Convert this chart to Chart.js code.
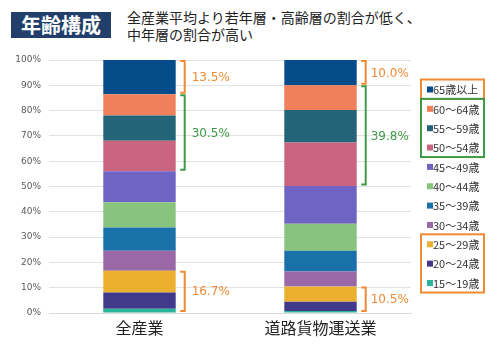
<!DOCTYPE html>
<html lang="ja">
  <head>
    <meta charset="UTF-8" />
    <title>年齢構成</title>
    <style>
      body { margin: 0; background: #fff; font-family: "Noto Sans CJK JP", sans-serif; }
      .wrap { position: relative; width: 500px; height: 351px; }
      .badge {
        position: absolute; left: 11px; top: 12px; width: 100px; height: 26px;
        background: #213f6a; color: #fff; font-weight: bold; font-size: 20px;
        line-height: 26px; text-align: center; letter-spacing: 0px;
      }
      .lead {
        position: absolute; left: 127px; top: 9px; font-size: 14px;
        line-height: 16.5px; color: #222; white-space: nowrap;
      }
      canvas { position: absolute; left: 0; top: 0; }
    </style>
  </head>
  <body>
    <div class="wrap">
      <div class="badge">年齢構成</div>
      <div class="lead">全産業平均より若年層・高齢層の割合が低く、<br />中年層の割合が高い</div>
      <canvas id="ageChart" width="500" height="351"></canvas>
    </div>
    <script src="https://cdn.jsdelivr.net/npm/chart.js@4"></script>
    <script>
      // データ（下から上の順）
      var categories = ["全産業", "道路貨物運送業"];
      var ageGroups = ["15～19歳", "20～24歳", "25～29歳", "30～34歳", "35～39歳",
        "40～44歳", "45～49歳", "50～54歳", "55～59歳", "60～64歳", "65歳以上"];
      var allIndustries = [1.7, 6.4, 8.6, 7.9, 9.2, 10.0, 12.2, 12.1, 10.0, 8.4, 13.5];
      var roadFreight = [0.8, 3.6, 6.1, 5.9, 8.2, 10.7, 14.9, 17.2, 12.8, 9.8, 10.0];
      var yTicks = [0, 10, 20, 30, 40, 50, 60, 70, 80, 90, 100];

      var colors = ["#2ab49c", "#41398a", "#ebb02f", "#9a67a7", "#1a70a8",
        "#88c47e", "#6f63c3", "#cb647e", "#236479", "#f0805c", "#064b8a"];
      var orange = "#f08a33";
      var green = "#3f9a45";
      // 括弧でまとめる年齢区分（ageGroups の添字）
      var groups = [
        { from: 10, to: 10, color: orange },
        { from: 7, to: 9, color: green },
        { from: 0, to: 2, color: orange }
      ];

      var datasets = ageGroups.map(function (name, i) {
        return {
          label: name,
          data: [allIndustries[i], roadFreight[i]],
          backgroundColor: colors[i],
          borderWidth: 0
        };
      });

      // 括弧と割合
      var bracketPlugin = {
        id: "brackets",
        afterDatasetsDraw: function (chart) {
          var ctx = chart.ctx;
          ctx.save();
          categories.forEach(function (c, j) {
            groups.forEach(function (g) {
              var topEl = chart.getDatasetMeta(g.to).data[j];
              var botEl = chart.getDatasetMeta(g.from).data[j];
              var top = topEl.y + 1;
              var bottom = botEl.base - 1.5;
              var x = topEl.x + topEl.width / 2 + 9;
              ctx.strokeStyle = g.color;
              ctx.lineWidth = 2;
              ctx.beginPath();
              ctx.moveTo(x - 4.5, top);
              ctx.lineTo(x, top);
              ctx.lineTo(x, bottom);
              ctx.lineTo(x - 4.5, bottom);
              ctx.stroke();
              var sum = 0;
              for (var k = g.from; k <= g.to; k++) sum += chart.data.datasets[k].data[j];
              ctx.fillStyle = g.color;
              ctx.font = "12px 'DejaVu Sans'";
              ctx.textAlign = "left";
              ctx.textBaseline = "middle";
              ctx.fillText(sum.toFixed(1) + "%", x + (j == 0 ? 7 : 5), (top + bottom) / 2 + 1);
            });
          });
          ctx.restore();
        }
      };

      // 凡例（上から 65歳以上 → 15～19歳）
      var legendPlugin = {
        id: "sideLegend",
        afterDraw: function (chart) {
          var ctx = chart.ctx;
          var n = ageGroups.length;
          var firstY = 89.5, step = 19.35, left = 420;
          function rowY(i) { return firstY + (n - 1 - i) * step; }
          ctx.save();
          ctx.font = "11px 'Noto Sans CJK JP'";
          ctx.textBaseline = "middle";
          for (var i = n - 1; i >= 0; i--) {
            var y = rowY(i);
            ctx.fillStyle = colors[i];
            ctx.fillRect(left + 7, y - 3, 6, 6);
            ctx.fillStyle = "#333";
            ctx.fillText(ageGroups[i], left + 13, y + 0.5);
          }
          groups.forEach(function (g) {
            var top = rowY(g.to) - 10;
            var bottom = rowY(g.from) + 9.5;
            ctx.strokeStyle = g.color;
            ctx.lineWidth = 2;
            ctx.strokeRect(left + 1, top, 63, bottom - top);
          });
          ctx.restore();
        }
      };

      new Chart(document.getElementById("ageChart"), {
        type: "bar",
        data: { labels: categories, datasets: datasets },
        options: {
          responsive: false,
          animation: false,
          events: [],
          layout: { padding: { top: 60, right: 89, left: 0, bottom: 0 } },
          datasets: { bar: { barPercentage: 0.5, categoryPercentage: 0.8 } },
          plugins: { legend: { display: false }, tooltip: { enabled: false } },
          scales: {
            x: {
              stacked: true,
              grid: { display: false, drawTicks: false },
              border: { display: true, color: "#d9d9d9" },
              ticks: { color: "#222", padding: 5, font: { size: 16, family: "'Noto Sans CJK JP'" } },
              afterFit: function (axis) { axis.height = 38; }
            },
            y: {
              stacked: true,
              min: 0,
              max: 100,
              afterBuildTicks: function (axis) {
                axis.ticks = yTicks.map(function (v) { return { value: v }; });
              },
              grid: { color: "#e2e2e2", drawTicks: false },
              border: { display: false },
              ticks: {
                color: "#595959",
                padding: 8,
                font: { size: 9, family: "'DejaVu Sans'" },
                callback: function (v) { return v + "%"; }
              },
              afterFit: function (axis) { axis.width = 49; }
            }
          }
        },
        plugins: [bracketPlugin, legendPlugin]
      });
    </script>
  </body>
</html>
